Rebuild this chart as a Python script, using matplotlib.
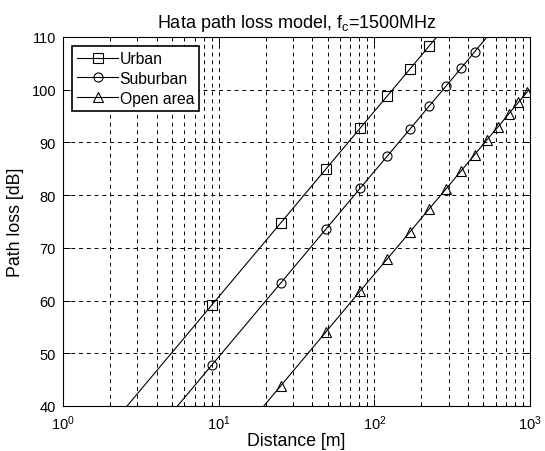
import matplotlib
matplotlib.use("Agg")
import matplotlib.pyplot as plt
from matplotlib.ticker import LogLocator, NullFormatter

# distance [m] and path loss [dB]
distance = [1, 9, 25, 49, 81, 121, 169, 225, 289, 361, 441, 529, 625, 729, 841, 961]
urban = [25.5, 59.1, 74.7, 85.0, 92.7, 98.8, 103.9, 108.3, 112.1, 115.5,
         118.6, 121.4, 123.9, 126.3, 128.5, 130.5]
suburban = [14.1, 47.7, 63.3, 73.6, 81.3, 87.4, 92.5, 96.9, 100.7, 104.1,
            107.2, 110.0, 112.5, 114.9, 117.1, 119.1]
open_area = [-5.4, 28.2, 43.8, 54.1, 61.8, 67.9, 73.0, 77.4, 81.2, 84.6,
             87.7, 90.5, 93.0, 95.4, 97.6, 99.6]

series = [("Urban", urban, "s"), ("Suburban", suburban, "o"), ("Open area", open_area, "^")]
y_lo, y_hi = 40, 110

plt.rcParams["font.family"] = ["Liberation Sans", "DejaVu Sans"]
plt.rcParams["mathtext.fontset"] = "custom"
plt.rcParams["mathtext.rm"] = "Liberation Sans"
plt.rcParams["mathtext.it"] = "Liberation Sans"

fig = plt.figure(figsize=(5.45, 4.52), dpi=100)
ax = fig.add_axes([0.1156, 0.0996, 0.857, 0.8164])

for name, vals, mk in series:
    # only mark points that are inside the visible range
    show = [y_lo <= v < y_hi for v in vals]
    ax.plot(distance, vals, color="k", linewidth=0.8, marker=mk, markersize=6.5,
            markerfacecolor="none", markeredgecolor="k", markeredgewidth=0.8,
            markevery=show, label=name)

ax.set_xscale("log")
ax.set_xlim(1, 1000)
ax.set_ylim(y_lo, y_hi)
ax.set_yticks(range(40, 111, 10))
ax.xaxis.set_minor_locator(LogLocator(base=10, subs=range(2, 10)))
ax.xaxis.set_minor_formatter(NullFormatter())

ax.grid(True, which="major", axis="both", color="k", linestyle=(0, (4, 4)), linewidth=0.7)
ax.grid(True, which="minor", axis="x", color="k", linestyle=(0, (4, 4)), linewidth=0.7)

ax.tick_params(which="both", direction="in", top=True, right=True, labelsize=10.5,
               colors="k", width=0.7)
ax.tick_params(which="major", length=5, pad=5)
ax.tick_params(which="minor", length=3)
for sp in ax.spines.values():
    sp.set_linewidth(0.8)

ax.set_title("Hata path loss model, f$_\\mathrm{c}$=1500MHz", fontsize=13, pad=7)
ax.set_xlabel("Distance [m]", fontsize=12.8, labelpad=0)
ax.set_ylabel("Path loss [dB]", fontsize=12.8, labelpad=5)

leg = ax.legend(loc="upper left", fontsize=11.3, frameon=True, fancybox=False,
                edgecolor="k", framealpha=1, borderpad=0.35, labelspacing=0.3,
                handlelength=2.6, handletextpad=0.1, borderaxespad=0.55)
leg.get_frame().set_linewidth(1.2)

fig.savefig("out.png", dpi=100)
